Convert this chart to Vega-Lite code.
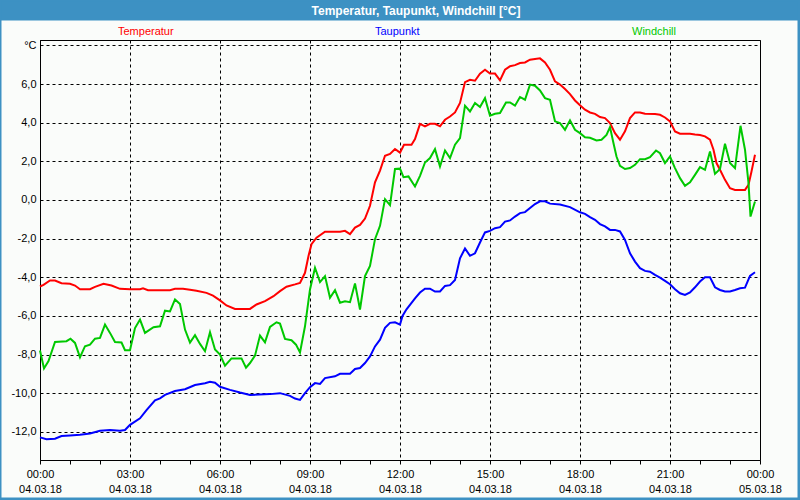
{
"$schema": "https://vega.github.io/schema/vega-lite/v6.json",
"width": 720, "height": 420,
"autosize": {"type": "none"},
"padding": {"left": 40, "top": 40, "right": 40, "bottom": 40},
"background": "#fafcfa",
"title": {"text": "Temperatur, Taupunkt, Windchill [°C]", "color": "#ffffff", "font": "Liberation Sans", "fontSize": 12, "fontWeight": "bold", "anchor": "middle", "frame": "group", "dx": 16, "offset": -25, "baseline": "middle"},
"config": {"view": {"stroke": "#000000", "strokeWidth": 1}, "font": "Liberation Sans"},
"resolve": {"axis": {"x": "independent"}},
"layer": [
{"data": {"values": [{"k": 1}]}, "mark": {"type": "rect", "color": "#3d91c3", "clip": false},
 "encoding": {
  "x": {"datum": {"year": 2018, "month": 3, "date": 3, "hours": 22, "minutes": 39}, "type": "temporal",
   "axis": {"orient": "bottom", "title": null, "labels": false, "ticks": false, "domain": false,
    "values": [{"year": 2018, "month": 3, "date": 4, "hours": 0}, {"year": 2018, "month": 3, "date": 4, "hours": 3}, {"year": 2018, "month": 3, "date": 4, "hours": 6}, {"year": 2018, "month": 3, "date": 4, "hours": 9}, {"year": 2018, "month": 3, "date": 4, "hours": 12}, {"year": 2018, "month": 3, "date": 4, "hours": 15}, {"year": 2018, "month": 3, "date": 4, "hours": 18}, {"year": 2018, "month": 3, "date": 4, "hours": 21}, {"year": 2018, "month": 3, "date": 5, "hours": 0}],
    "grid": true, "gridColor": "#000000", "gridDash": [3, 3], "gridWidth": 1}},
  "x2": {"datum": {"year": 2018, "month": 3, "date": 5, "hours": 1, "minutes": 19}},
  "y": {"datum": 10.376, "type": "quantitative"},
  "y2": {"datum": 9.289}}},
{"data": {"values": [{"k": 1}]}, "mark": {"type": "rect", "filled": false, "stroke": "#3d91c3", "strokeWidth": 4, "clip": false},
 "encoding": {
  "x": {"datum": {"year": 2018, "month": 3, "date": 3, "hours": 22, "minutes": 39}, "type": "temporal", "axis": null},
  "x2": {"datum": {"year": 2018, "month": 3, "date": 5, "hours": 1, "minutes": 19}},
  "y": {"datum": 10.376, "type": "quantitative"},
  "y2": {"datum": -15.505}}},
{"data": {"values": [
{"t":"2018-03-04T00:00","s":"Temperatur","v":-4.48},{"t":"2018-03-04T00:07","s":"Temperatur","v":-4.39},{"t":"2018-03-04T00:20","s":"Temperatur","v":-4.17},{"t":"2018-03-04T00:30","s":"Temperatur","v":-4.17},{"t":"2018-03-04T00:43","s":"Temperatur","v":-4.31},{"t":"2018-03-04T01:00","s":"Temperatur","v":-4.34},{"t":"2018-03-04T01:10","s":"Temperatur","v":-4.43},{"t":"2018-03-04T01:20","s":"Temperatur","v":-4.62},{"t":"2018-03-04T01:40","s":"Temperatur","v":-4.62},{"t":"2018-03-04T01:50","s":"Temperatur","v":-4.5},{"t":"2018-03-04T02:07","s":"Temperatur","v":-4.34},{"t":"2018-03-04T02:23","s":"Temperatur","v":-4.43},{"t":"2018-03-04T02:40","s":"Temperatur","v":-4.6},{"t":"2018-03-04T03:00","s":"Temperatur","v":-4.62},{"t":"2018-03-04T03:20","s":"Temperatur","v":-4.62},{"t":"2018-03-04T03:26","s":"Temperatur","v":-4.57},{"t":"2018-03-04T03:36","s":"Temperatur","v":-4.67},{"t":"2018-03-04T04:20","s":"Temperatur","v":-4.67},{"t":"2018-03-04T04:30","s":"Temperatur","v":-4.6},{"t":"2018-03-04T04:46","s":"Temperatur","v":-4.6},{"t":"2018-03-04T05:00","s":"Temperatur","v":-4.65},{"t":"2018-03-04T05:13","s":"Temperatur","v":-4.7},{"t":"2018-03-04T05:33","s":"Temperatur","v":-4.81},{"t":"2018-03-04T05:46","s":"Temperatur","v":-4.95},{"t":"2018-03-04T06:00","s":"Temperatur","v":-5.2},{"t":"2018-03-04T06:13","s":"Temperatur","v":-5.46},{"t":"2018-03-04T06:30","s":"Temperatur","v":-5.64},{"t":"2018-03-04T07:00","s":"Temperatur","v":-5.64},{"t":"2018-03-04T07:13","s":"Temperatur","v":-5.41},{"t":"2018-03-04T07:30","s":"Temperatur","v":-5.24},{"t":"2018-03-04T07:47","s":"Temperatur","v":-4.98},{"t":"2018-03-04T08:00","s":"Temperatur","v":-4.72},{"t":"2018-03-04T08:13","s":"Temperatur","v":-4.49},{"t":"2018-03-04T08:30","s":"Temperatur","v":-4.37},{"t":"2018-03-04T08:40","s":"Temperatur","v":-4.29},{"t":"2018-03-04T08:50","s":"Temperatur","v":-3.77},{"t":"2018-03-04T08:57","s":"Temperatur","v":-2.9},{"t":"2018-03-04T09:03","s":"Temperatur","v":-2.29},{"t":"2018-03-04T09:13","s":"Temperatur","v":-1.95},{"t":"2018-03-04T09:30","s":"Temperatur","v":-1.64},{"t":"2018-03-04T10:00","s":"Temperatur","v":-1.64},{"t":"2018-03-04T10:10","s":"Temperatur","v":-1.6},{"t":"2018-03-04T10:20","s":"Temperatur","v":-1.77},{"t":"2018-03-04T10:30","s":"Temperatur","v":-1.43},{"t":"2018-03-04T10:40","s":"Temperatur","v":-1.29},{"t":"2018-03-04T10:50","s":"Temperatur","v":-0.96},{"t":"2018-03-04T11:00","s":"Temperatur","v":-0.3},{"t":"2018-03-04T11:10","s":"Temperatur","v":0.91},{"t":"2018-03-04T11:20","s":"Temperatur","v":1.52},{"t":"2018-03-04T11:30","s":"Temperatur","v":2.29},{"t":"2018-03-04T11:40","s":"Temperatur","v":2.38},{"t":"2018-03-04T11:50","s":"Temperatur","v":2.64},{"t":"2018-03-04T12:00","s":"Temperatur","v":2.45},{"t":"2018-03-04T12:08","s":"Temperatur","v":2.86},{"t":"2018-03-04T12:23","s":"Temperatur","v":2.86},{"t":"2018-03-04T12:30","s":"Temperatur","v":3.15},{"t":"2018-03-04T12:40","s":"Temperatur","v":3.94},{"t":"2018-03-04T12:50","s":"Temperatur","v":3.81},{"t":"2018-03-04T13:00","s":"Temperatur","v":3.94},{"t":"2018-03-04T13:10","s":"Temperatur","v":3.94},{"t":"2018-03-04T13:20","s":"Temperatur","v":3.81},{"t":"2018-03-04T13:30","s":"Temperatur","v":4.15},{"t":"2018-03-04T13:40","s":"Temperatur","v":4.32},{"t":"2018-03-04T13:50","s":"Temperatur","v":4.53},{"t":"2018-03-04T14:00","s":"Temperatur","v":5.02},{"t":"2018-03-04T14:10","s":"Temperatur","v":6.1},{"t":"2018-03-04T14:20","s":"Temperatur","v":6.22},{"t":"2018-03-04T14:30","s":"Temperatur","v":6.17},{"t":"2018-03-04T14:40","s":"Temperatur","v":6.54},{"t":"2018-03-04T14:50","s":"Temperatur","v":6.74},{"t":"2018-03-04T15:00","s":"Temperatur","v":6.54},{"t":"2018-03-04T15:10","s":"Temperatur","v":6.54},{"t":"2018-03-04T15:20","s":"Temperatur","v":6.19},{"t":"2018-03-04T15:30","s":"Temperatur","v":6.74},{"t":"2018-03-04T15:40","s":"Temperatur","v":6.92},{"t":"2018-03-04T15:50","s":"Temperatur","v":6.98},{"t":"2018-03-04T16:00","s":"Temperatur","v":7.09},{"t":"2018-03-04T16:10","s":"Temperatur","v":7.12},{"t":"2018-03-04T16:20","s":"Temperatur","v":7.26},{"t":"2018-03-04T16:30","s":"Temperatur","v":7.3},{"t":"2018-03-04T16:40","s":"Temperatur","v":7.33},{"t":"2018-03-04T16:50","s":"Temperatur","v":7.12},{"t":"2018-03-04T17:00","s":"Temperatur","v":6.74},{"t":"2018-03-04T17:10","s":"Temperatur","v":6.14},{"t":"2018-03-04T17:20","s":"Temperatur","v":5.97},{"t":"2018-03-04T17:30","s":"Temperatur","v":5.74},{"t":"2018-03-04T17:40","s":"Temperatur","v":5.48},{"t":"2018-03-04T17:50","s":"Temperatur","v":5.15},{"t":"2018-03-04T18:00","s":"Temperatur","v":4.9},{"t":"2018-03-04T18:10","s":"Temperatur","v":4.67},{"t":"2018-03-04T18:20","s":"Temperatur","v":4.53},{"t":"2018-03-04T18:30","s":"Temperatur","v":4.46},{"t":"2018-03-04T18:40","s":"Temperatur","v":4.29},{"t":"2018-03-04T18:50","s":"Temperatur","v":4.24},{"t":"2018-03-04T19:00","s":"Temperatur","v":3.98},{"t":"2018-03-04T19:10","s":"Temperatur","v":3.46},{"t":"2018-03-04T19:20","s":"Temperatur","v":3.12},{"t":"2018-03-04T19:30","s":"Temperatur","v":3.55},{"t":"2018-03-04T19:40","s":"Temperatur","v":4.24},{"t":"2018-03-04T19:50","s":"Temperatur","v":4.53},{"t":"2018-03-04T20:00","s":"Temperatur","v":4.53},{"t":"2018-03-04T20:10","s":"Temperatur","v":4.46},{"t":"2018-03-04T20:30","s":"Temperatur","v":4.45},{"t":"2018-03-04T20:40","s":"Temperatur","v":4.41},{"t":"2018-03-04T20:50","s":"Temperatur","v":4.27},{"t":"2018-03-04T21:00","s":"Temperatur","v":4.07},{"t":"2018-03-04T21:10","s":"Temperatur","v":3.55},{"t":"2018-03-04T21:20","s":"Temperatur","v":3.43},{"t":"2018-03-04T21:40","s":"Temperatur","v":3.43},{"t":"2018-03-04T21:50","s":"Temperatur","v":3.39},{"t":"2018-03-04T22:00","s":"Temperatur","v":3.36},{"t":"2018-03-04T22:10","s":"Temperatur","v":3.29},{"t":"2018-03-04T22:20","s":"Temperatur","v":3.12},{"t":"2018-03-04T22:27","s":"Temperatur","v":2.6},{"t":"2018-03-04T22:33","s":"Temperatur","v":1.91},{"t":"2018-03-04T22:40","s":"Temperatur","v":1.56},{"t":"2018-03-04T22:50","s":"Temperatur","v":1.04},{"t":"2018-03-04T23:00","s":"Temperatur","v":0.61},{"t":"2018-03-04T23:10","s":"Temperatur","v":0.52},{"t":"2018-03-04T23:20","s":"Temperatur","v":0.52},{"t":"2018-03-04T23:30","s":"Temperatur","v":0.52},{"t":"2018-03-04T23:37","s":"Temperatur","v":0.78},{"t":"2018-03-04T23:43","s":"Temperatur","v":1.47},{"t":"2018-03-04T23:50","s":"Temperatur","v":2.34},
{"t":"2018-03-04T00:00","s":"Taupunkt","v":-12.29},{"t":"2018-03-04T00:13","s":"Taupunkt","v":-12.39},{"t":"2018-03-04T00:30","s":"Taupunkt","v":-12.36},{"t":"2018-03-04T00:43","s":"Taupunkt","v":-12.22},{"t":"2018-03-04T01:00","s":"Taupunkt","v":-12.19},{"t":"2018-03-04T01:20","s":"Taupunkt","v":-12.15},{"t":"2018-03-04T01:40","s":"Taupunkt","v":-12.09},{"t":"2018-03-04T02:00","s":"Taupunkt","v":-11.95},{"t":"2018-03-04T02:20","s":"Taupunkt","v":-11.91},{"t":"2018-03-04T02:40","s":"Taupunkt","v":-11.95},{"t":"2018-03-04T02:50","s":"Taupunkt","v":-11.91},{"t":"2018-03-04T03:00","s":"Taupunkt","v":-11.64},{"t":"2018-03-04T03:20","s":"Taupunkt","v":-11.3},{"t":"2018-03-04T03:33","s":"Taupunkt","v":-10.88},{"t":"2018-03-04T03:50","s":"Taupunkt","v":-10.37},{"t":"2018-03-04T04:00","s":"Taupunkt","v":-10.27},{"t":"2018-03-04T04:10","s":"Taupunkt","v":-10.09},{"t":"2018-03-04T04:30","s":"Taupunkt","v":-9.89},{"t":"2018-03-04T04:50","s":"Taupunkt","v":-9.8},{"t":"2018-03-04T05:10","s":"Taupunkt","v":-9.58},{"t":"2018-03-04T05:30","s":"Taupunkt","v":-9.49},{"t":"2018-03-04T05:40","s":"Taupunkt","v":-9.41},{"t":"2018-03-04T05:50","s":"Taupunkt","v":-9.46},{"t":"2018-03-04T06:00","s":"Taupunkt","v":-9.67},{"t":"2018-03-04T06:20","s":"Taupunkt","v":-9.83},{"t":"2018-03-04T06:40","s":"Taupunkt","v":-9.97},{"t":"2018-03-04T07:00","s":"Taupunkt","v":-10.09},{"t":"2018-03-04T07:40","s":"Taupunkt","v":-10.05},{"t":"2018-03-04T08:00","s":"Taupunkt","v":-10.0},{"t":"2018-03-04T08:20","s":"Taupunkt","v":-10.14},{"t":"2018-03-04T08:30","s":"Taupunkt","v":-10.28},{"t":"2018-03-04T08:40","s":"Taupunkt","v":-10.35},{"t":"2018-03-04T08:50","s":"Taupunkt","v":-10.0},{"t":"2018-03-04T09:00","s":"Taupunkt","v":-9.69},{"t":"2018-03-04T09:10","s":"Taupunkt","v":-9.48},{"t":"2018-03-04T09:20","s":"Taupunkt","v":-9.52},{"t":"2018-03-04T09:30","s":"Taupunkt","v":-9.22},{"t":"2018-03-04T09:50","s":"Taupunkt","v":-9.13},{"t":"2018-03-04T10:00","s":"Taupunkt","v":-9.0},{"t":"2018-03-04T10:20","s":"Taupunkt","v":-9.0},{"t":"2018-03-04T10:30","s":"Taupunkt","v":-8.75},{"t":"2018-03-04T10:40","s":"Taupunkt","v":-8.7},{"t":"2018-03-04T10:50","s":"Taupunkt","v":-8.44},{"t":"2018-03-04T11:00","s":"Taupunkt","v":-8.1},{"t":"2018-03-04T11:10","s":"Taupunkt","v":-7.58},{"t":"2018-03-04T11:20","s":"Taupunkt","v":-7.23},{"t":"2018-03-04T11:30","s":"Taupunkt","v":-6.62},{"t":"2018-03-04T11:40","s":"Taupunkt","v":-6.36},{"t":"2018-03-04T11:50","s":"Taupunkt","v":-6.33},{"t":"2018-03-04T12:00","s":"Taupunkt","v":-6.45},{"t":"2018-03-04T12:05","s":"Taupunkt","v":-6.0},{"t":"2018-03-04T12:13","s":"Taupunkt","v":-5.66},{"t":"2018-03-04T12:30","s":"Taupunkt","v":-5.09},{"t":"2018-03-04T12:40","s":"Taupunkt","v":-4.79},{"t":"2018-03-04T12:50","s":"Taupunkt","v":-4.59},{"t":"2018-03-04T13:00","s":"Taupunkt","v":-4.59},{"t":"2018-03-04T13:10","s":"Taupunkt","v":-4.74},{"t":"2018-03-04T13:20","s":"Taupunkt","v":-4.74},{"t":"2018-03-04T13:30","s":"Taupunkt","v":-4.45},{"t":"2018-03-04T13:40","s":"Taupunkt","v":-4.41},{"t":"2018-03-04T13:50","s":"Taupunkt","v":-4.14},{"t":"2018-03-04T14:00","s":"Taupunkt","v":-3.02},{"t":"2018-03-04T14:10","s":"Taupunkt","v":-2.51},{"t":"2018-03-04T14:20","s":"Taupunkt","v":-2.89},{"t":"2018-03-04T14:30","s":"Taupunkt","v":-2.76},{"t":"2018-03-04T14:40","s":"Taupunkt","v":-2.2},{"t":"2018-03-04T14:50","s":"Taupunkt","v":-1.68},{"t":"2018-03-04T15:00","s":"Taupunkt","v":-1.6},{"t":"2018-03-04T15:10","s":"Taupunkt","v":-1.46},{"t":"2018-03-04T15:20","s":"Taupunkt","v":-1.41},{"t":"2018-03-04T15:30","s":"Taupunkt","v":-1.12},{"t":"2018-03-04T15:40","s":"Taupunkt","v":-1.06},{"t":"2018-03-04T15:50","s":"Taupunkt","v":-0.86},{"t":"2018-03-04T16:00","s":"Taupunkt","v":-0.68},{"t":"2018-03-04T16:10","s":"Taupunkt","v":-0.63},{"t":"2018-03-04T16:20","s":"Taupunkt","v":-0.42},{"t":"2018-03-04T16:30","s":"Taupunkt","v":-0.21},{"t":"2018-03-04T16:40","s":"Taupunkt","v":-0.07},{"t":"2018-03-04T16:50","s":"Taupunkt","v":-0.07},{"t":"2018-03-04T17:00","s":"Taupunkt","v":-0.19},{"t":"2018-03-04T17:20","s":"Taupunkt","v":-0.24},{"t":"2018-03-04T17:40","s":"Taupunkt","v":-0.37},{"t":"2018-03-04T18:00","s":"Taupunkt","v":-0.64},{"t":"2018-03-04T18:10","s":"Taupunkt","v":-0.72},{"t":"2018-03-04T18:20","s":"Taupunkt","v":-0.89},{"t":"2018-03-04T18:30","s":"Taupunkt","v":-1.03},{"t":"2018-03-04T18:40","s":"Taupunkt","v":-1.25},{"t":"2018-03-04T18:50","s":"Taupunkt","v":-1.37},{"t":"2018-03-04T19:00","s":"Taupunkt","v":-1.55},{"t":"2018-03-04T19:10","s":"Taupunkt","v":-1.55},{"t":"2018-03-04T19:20","s":"Taupunkt","v":-1.63},{"t":"2018-03-04T19:30","s":"Taupunkt","v":-2.07},{"t":"2018-03-04T19:40","s":"Taupunkt","v":-2.76},{"t":"2018-03-04T19:50","s":"Taupunkt","v":-3.19},{"t":"2018-03-04T20:00","s":"Taupunkt","v":-3.53},{"t":"2018-03-04T20:10","s":"Taupunkt","v":-3.67},{"t":"2018-03-04T20:20","s":"Taupunkt","v":-3.71},{"t":"2018-03-04T20:30","s":"Taupunkt","v":-3.88},{"t":"2018-03-04T20:40","s":"Taupunkt","v":-4.02},{"t":"2018-03-04T20:50","s":"Taupunkt","v":-4.19},{"t":"2018-03-04T21:00","s":"Taupunkt","v":-4.36},{"t":"2018-03-04T21:10","s":"Taupunkt","v":-4.62},{"t":"2018-03-04T21:20","s":"Taupunkt","v":-4.83},{"t":"2018-03-04T21:30","s":"Taupunkt","v":-4.92},{"t":"2018-03-04T21:40","s":"Taupunkt","v":-4.79},{"t":"2018-03-04T21:50","s":"Taupunkt","v":-4.52},{"t":"2018-03-04T22:00","s":"Taupunkt","v":-4.22},{"t":"2018-03-04T22:10","s":"Taupunkt","v":-4.0},{"t":"2018-03-04T22:20","s":"Taupunkt","v":-4.0},{"t":"2018-03-04T22:30","s":"Taupunkt","v":-4.52},{"t":"2018-03-04T22:40","s":"Taupunkt","v":-4.66},{"t":"2018-03-04T22:50","s":"Taupunkt","v":-4.74},{"t":"2018-03-04T23:00","s":"Taupunkt","v":-4.74},{"t":"2018-03-04T23:10","s":"Taupunkt","v":-4.66},{"t":"2018-03-04T23:20","s":"Taupunkt","v":-4.57},{"t":"2018-03-04T23:30","s":"Taupunkt","v":-4.54},{"t":"2018-03-04T23:40","s":"Taupunkt","v":-3.93},{"t":"2018-03-04T23:50","s":"Taupunkt","v":-3.74},
{"t":"2018-03-04T00:00","s":"Windchill","v":-7.79},{"t":"2018-03-04T00:08","s":"Windchill","v":-8.72},{"t":"2018-03-04T00:17","s":"Windchill","v":-8.34},{"t":"2018-03-04T00:30","s":"Windchill","v":-7.35},{"t":"2018-03-04T00:53","s":"Windchill","v":-7.31},{"t":"2018-03-04T01:01","s":"Windchill","v":-7.18},{"t":"2018-03-04T01:10","s":"Windchill","v":-7.4},{"t":"2018-03-04T01:20","s":"Windchill","v":-8.14},{"t":"2018-03-04T01:30","s":"Windchill","v":-7.57},{"t":"2018-03-04T01:40","s":"Windchill","v":-7.49},{"t":"2018-03-04T01:50","s":"Windchill","v":-7.18},{"t":"2018-03-04T02:00","s":"Windchill","v":-7.14},{"t":"2018-03-04T02:10","s":"Windchill","v":-6.45},{"t":"2018-03-04T02:20","s":"Windchill","v":-6.88},{"t":"2018-03-04T02:30","s":"Windchill","v":-7.35},{"t":"2018-03-04T02:43","s":"Windchill","v":-7.38},{"t":"2018-03-04T02:50","s":"Windchill","v":-7.78},{"t":"2018-03-04T03:00","s":"Windchill","v":-7.78},{"t":"2018-03-04T03:10","s":"Windchill","v":-6.63},{"t":"2018-03-04T03:20","s":"Windchill","v":-6.19},{"t":"2018-03-04T03:30","s":"Windchill","v":-6.88},{"t":"2018-03-04T03:47","s":"Windchill","v":-6.59},{"t":"2018-03-04T04:00","s":"Windchill","v":-6.54},{"t":"2018-03-04T04:10","s":"Windchill","v":-5.73},{"t":"2018-03-04T04:20","s":"Windchill","v":-5.77},{"t":"2018-03-04T04:30","s":"Windchill","v":-5.15},{"t":"2018-03-04T04:40","s":"Windchill","v":-5.39},{"t":"2018-03-04T04:50","s":"Windchill","v":-6.71},{"t":"2018-03-04T05:00","s":"Windchill","v":-7.38},{"t":"2018-03-04T05:10","s":"Windchill","v":-7.0},{"t":"2018-03-04T05:20","s":"Windchill","v":-7.45},{"t":"2018-03-04T05:30","s":"Windchill","v":-7.83},{"t":"2018-03-04T05:40","s":"Windchill","v":-6.85},{"t":"2018-03-04T05:50","s":"Windchill","v":-7.74},{"t":"2018-03-04T06:00","s":"Windchill","v":-8.0},{"t":"2018-03-04T06:10","s":"Windchill","v":-8.58},{"t":"2018-03-04T06:23","s":"Windchill","v":-8.2},{"t":"2018-03-04T06:43","s":"Windchill","v":-8.2},{"t":"2018-03-04T06:52","s":"Windchill","v":-8.68},{"t":"2018-03-04T07:00","s":"Windchill","v":-8.44},{"t":"2018-03-04T07:10","s":"Windchill","v":-8.06},{"t":"2018-03-04T07:20","s":"Windchill","v":-7.02},{"t":"2018-03-04T07:30","s":"Windchill","v":-7.37},{"t":"2018-03-04T07:40","s":"Windchill","v":-6.57},{"t":"2018-03-04T07:53","s":"Windchill","v":-6.33},{"t":"2018-03-04T08:00","s":"Windchill","v":-6.4},{"t":"2018-03-04T08:10","s":"Windchill","v":-7.19},{"t":"2018-03-04T08:23","s":"Windchill","v":-7.26},{"t":"2018-03-04T08:32","s":"Windchill","v":-7.49},{"t":"2018-03-04T08:40","s":"Windchill","v":-7.89},{"t":"2018-03-04T08:50","s":"Windchill","v":-6.54},{"t":"2018-03-04T09:00","s":"Windchill","v":-4.63},{"t":"2018-03-04T09:10","s":"Windchill","v":-3.51},{"t":"2018-03-04T09:20","s":"Windchill","v":-4.25},{"t":"2018-03-04T09:30","s":"Windchill","v":-3.94},{"t":"2018-03-04T09:40","s":"Windchill","v":-5.06},{"t":"2018-03-04T09:50","s":"Windchill","v":-4.67},{"t":"2018-03-04T10:00","s":"Windchill","v":-5.32},{"t":"2018-03-04T10:10","s":"Windchill","v":-5.24},{"t":"2018-03-04T10:20","s":"Windchill","v":-5.29},{"t":"2018-03-04T10:30","s":"Windchill","v":-4.32},{"t":"2018-03-04T10:40","s":"Windchill","v":-5.67},{"t":"2018-03-04T10:50","s":"Windchill","v":-3.94},{"t":"2018-03-04T11:00","s":"Windchill","v":-3.42},{"t":"2018-03-04T11:10","s":"Windchill","v":-2.03},{"t":"2018-03-04T11:20","s":"Windchill","v":-1.34},{"t":"2018-03-04T11:30","s":"Windchill","v":0.04},{"t":"2018-03-04T11:40","s":"Windchill","v":-0.27},{"t":"2018-03-04T11:50","s":"Windchill","v":1.6},{"t":"2018-03-04T12:00","s":"Windchill","v":1.62},{"t":"2018-03-04T12:07","s":"Windchill","v":1.18},{"t":"2018-03-04T12:17","s":"Windchill","v":1.22},{"t":"2018-03-04T12:30","s":"Windchill","v":0.7},{"t":"2018-03-04T12:40","s":"Windchill","v":1.25},{"t":"2018-03-04T12:50","s":"Windchill","v":1.94},{"t":"2018-03-04T13:00","s":"Windchill","v":2.17},{"t":"2018-03-04T13:10","s":"Windchill","v":2.63},{"t":"2018-03-04T13:20","s":"Windchill","v":1.73},{"t":"2018-03-04T13:30","s":"Windchill","v":2.56},{"t":"2018-03-04T13:40","s":"Windchill","v":2.17},{"t":"2018-03-04T13:50","s":"Windchill","v":2.86},{"t":"2018-03-04T14:00","s":"Windchill","v":3.2},{"t":"2018-03-04T14:10","s":"Windchill","v":4.88},{"t":"2018-03-04T14:20","s":"Windchill","v":4.58},{"t":"2018-03-04T14:30","s":"Windchill","v":5.02},{"t":"2018-03-04T14:40","s":"Windchill","v":4.81},{"t":"2018-03-04T14:50","s":"Windchill","v":5.27},{"t":"2018-03-04T15:00","s":"Windchill","v":4.36},{"t":"2018-03-04T15:10","s":"Windchill","v":4.46},{"t":"2018-03-04T15:20","s":"Windchill","v":4.5},{"t":"2018-03-04T15:32","s":"Windchill","v":5.05},{"t":"2018-03-04T15:40","s":"Windchill","v":5.05},{"t":"2018-03-04T15:50","s":"Windchill","v":4.88},{"t":"2018-03-04T16:00","s":"Windchill","v":5.33},{"t":"2018-03-04T16:10","s":"Windchill","v":5.19},{"t":"2018-03-04T16:20","s":"Windchill","v":5.97},{"t":"2018-03-04T16:30","s":"Windchill","v":5.91},{"t":"2018-03-04T16:40","s":"Windchill","v":5.67},{"t":"2018-03-04T16:50","s":"Windchill","v":5.27},{"t":"2018-03-04T17:00","s":"Windchill","v":5.19},{"t":"2018-03-04T17:10","s":"Windchill","v":4.07},{"t":"2018-03-04T17:20","s":"Windchill","v":3.98},{"t":"2018-03-04T17:30","s":"Windchill","v":3.63},{"t":"2018-03-04T17:40","s":"Windchill","v":4.12},{"t":"2018-03-04T17:50","s":"Windchill","v":3.63},{"t":"2018-03-04T18:00","s":"Windchill","v":3.46},{"t":"2018-03-04T18:10","s":"Windchill","v":3.25},{"t":"2018-03-04T18:20","s":"Windchill","v":3.22},{"t":"2018-03-04T18:33","s":"Windchill","v":3.08},{"t":"2018-03-04T18:43","s":"Windchill","v":3.12},{"t":"2018-03-04T18:53","s":"Windchill","v":3.37},{"t":"2018-03-04T19:00","s":"Windchill","v":3.77},{"t":"2018-03-04T19:07","s":"Windchill","v":2.94},{"t":"2018-03-04T19:13","s":"Windchill","v":2.25},{"t":"2018-03-04T19:20","s":"Windchill","v":1.77},{"t":"2018-03-04T19:30","s":"Windchill","v":1.6},{"t":"2018-03-04T19:40","s":"Windchill","v":1.65},{"t":"2018-03-04T19:50","s":"Windchill","v":1.82},{"t":"2018-03-04T20:00","s":"Windchill","v":2.11},{"t":"2018-03-04T20:10","s":"Windchill","v":2.11},{"t":"2018-03-04T20:20","s":"Windchill","v":2.22},{"t":"2018-03-04T20:32","s":"Windchill","v":2.56},{"t":"2018-03-04T20:40","s":"Windchill","v":2.42},{"t":"2018-03-04T20:50","s":"Windchill","v":1.91},{"t":"2018-03-04T21:00","s":"Windchill","v":2.25},{"t":"2018-03-04T21:10","s":"Windchill","v":1.65},{"t":"2018-03-04T21:20","s":"Windchill","v":1.13},{"t":"2018-03-04T21:30","s":"Windchill","v":0.73},{"t":"2018-03-04T21:40","s":"Windchill","v":0.91},{"t":"2018-03-04T21:50","s":"Windchill","v":1.3},{"t":"2018-03-04T22:00","s":"Windchill","v":1.7},{"t":"2018-03-04T22:10","s":"Windchill","v":1.56},{"t":"2018-03-04T22:20","s":"Windchill","v":2.51},{"t":"2018-03-04T22:30","s":"Windchill","v":1.35},{"t":"2018-03-04T22:40","s":"Windchill","v":1.6},{"t":"2018-03-04T22:50","s":"Windchill","v":2.91},{"t":"2018-03-04T23:00","s":"Windchill","v":1.91},{"t":"2018-03-04T23:10","s":"Windchill","v":1.65},{"t":"2018-03-04T23:21","s":"Windchill","v":3.84},{"t":"2018-03-04T23:30","s":"Windchill","v":2.6},{"t":"2018-03-04T23:37","s":"Windchill","v":0.87},{"t":"2018-03-04T23:41","s":"Windchill","v":-0.86},{"t":"2018-03-04T23:50","s":"Windchill","v":-0.08}
]},
 "mark": {"type": "line", "strokeWidth": 2},
 "encoding": {
  "x": {"field": "t", "type": "temporal",
   "scale": {"domain": [{"year": 2018, "month": 3, "date": 4, "hours": 0}, {"year": 2018, "month": 3, "date": 5, "hours": 0}], "nice": false},
   "axis": {"orient": "bottom", "title": null,
    "values": [{"year": 2018, "month": 3, "date": 4, "hours": 0}, {"year": 2018, "month": 3, "date": 4, "hours": 1}, {"year": 2018, "month": 3, "date": 4, "hours": 2}, {"year": 2018, "month": 3, "date": 4, "hours": 3}, {"year": 2018, "month": 3, "date": 4, "hours": 4}, {"year": 2018, "month": 3, "date": 4, "hours": 5}, {"year": 2018, "month": 3, "date": 4, "hours": 6}, {"year": 2018, "month": 3, "date": 4, "hours": 7}, {"year": 2018, "month": 3, "date": 4, "hours": 8}, {"year": 2018, "month": 3, "date": 4, "hours": 9}, {"year": 2018, "month": 3, "date": 4, "hours": 10}, {"year": 2018, "month": 3, "date": 4, "hours": 11}, {"year": 2018, "month": 3, "date": 4, "hours": 12}, {"year": 2018, "month": 3, "date": 4, "hours": 13}, {"year": 2018, "month": 3, "date": 4, "hours": 14}, {"year": 2018, "month": 3, "date": 4, "hours": 15}, {"year": 2018, "month": 3, "date": 4, "hours": 16}, {"year": 2018, "month": 3, "date": 4, "hours": 17}, {"year": 2018, "month": 3, "date": 4, "hours": 18}, {"year": 2018, "month": 3, "date": 4, "hours": 19}, {"year": 2018, "month": 3, "date": 4, "hours": 20}, {"year": 2018, "month": 3, "date": 4, "hours": 21}, {"year": 2018, "month": 3, "date": 4, "hours": 22}, {"year": 2018, "month": 3, "date": 4, "hours": 23}, {"year": 2018, "month": 3, "date": 5, "hours": 0}],
    "labelExpr": "hours(datum.value) % 3 == 0 ? [timeFormat(datum.value, '%H:%M'), timeFormat(datum.value, '%d.%m.%y')] : ''",
    "grid": false,
    "tickSize": 4, "tickColor": "#000000", "domainColor": "#000000",
    "labelFlush": false, "labelOverlap": false, "labelPadding": 4, "labelLineHeight": 15,
    "labelFont": "Liberation Sans", "labelFontSize": 11, "labelColor": "#000000"}},
  "y": {"field": "v", "type": "quantitative",
   "scale": {"domain": [-13.46, 8.28], "nice": false, "zero": false},
   "axis": {"title": null, "values": [-12, -10, -8, -6, -4, -2, 0, 2, 4, 6, 8],
    "labelExpr": "datum.value == 8 ? '°C' : (datum.value < 0 ? '-' : '') + replace(format(abs(datum.value), '.1f'), '.', ',')",
    "grid": true, "gridColor": "#000000", "gridDash": [3, 3], "gridWidth": 1,
    "tickSize": 0, "domainColor": "#000000", "labelPadding": 4,
    "labelFont": "Liberation Sans", "labelFontSize": 11, "labelColor": "#000000"}},
  "color": {"field": "s", "type": "nominal",
   "scale": {"domain": ["Temperatur", "Taupunkt", "Windchill"], "range": ["#ff0000", "#0000ff", "#00c800"]},
   "legend": {"title": null, "orient": "none", "legendX": 67, "legendY": -14, "direction": "horizontal", "columns": 3,
    "gridAlign": "all", "columnPadding": 190, "symbolSize": 0, "symbolStrokeWidth": 0, "symbolOpacity": 0, "labelOffset": 0,
    "labelFont": "Liberation Sans", "labelFontSize": 11,
    "encode": {"labels": {"update": {"fill": {"scale": "color", "field": "value"}}}}}}
 }}
]
}
